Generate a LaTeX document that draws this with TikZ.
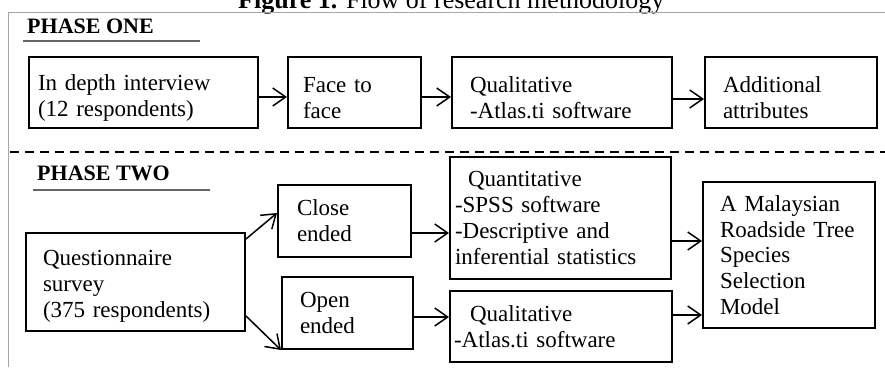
\documentclass[tikz,border=0pt]{standalone}
\usepackage{fontspec}
\setmainfont{Liberation Serif}
\usetikzlibrary{arrows.meta}

\tikzset{
  box/.style={draw, line width=2pt, align=left, inner ysep=0pt,
    font=\fontsize{23pt}{25.8pt}\selectfont},
  textdrop/.style={execute at begin node={\rule{0pt}{#1}}},
  flow/.style={-{Straight Barb[length=13pt,width=18pt]}, line width=1.5pt},
  heading/.style={anchor=base west, inner sep=0pt,
    font=\bfseries\fontsize{22pt}{24pt}\selectfont},
  headrule/.style={line width=1.2pt, gray!80!black},
  pageframe/.style={line width=1.5pt, gray!70}
}

\begin{document}
\begin{tikzpicture}[x=1pt, y=-1pt]
  \useasboundingbox (0,0) rectangle (885,367);

  % caption, frame and separator
  \node[anchor=base west, inner sep=0pt, font=\fontsize{26pt}{30pt}\selectfont] (caption) at (238,8) {\textbf{Figure 1.} Flow of research methodology};
  \draw[pageframe] (8.5,367) -- (8.5,12.5) -- (885,12.5);
  \draw[line width=2.5pt, dash pattern=on 9pt off 6pt] (10,152) -- (885,152);

  % phase one
  \node[heading] (phaseone) at (27,33) {PHASE ONE};
  \draw[headrule] (23,41) -- (200,41);

  \node[box, textdrop=27pt, text width=211pt, inner xsep=9pt, minimum height=71pt] (interview) at (143.5,92.5) {In depth interview\\(12 respondents)};
  \node[box, textdrop=27pt, text width=103pt, inner xsep=15pt, minimum height=71pt] (facetoface) at (354.5,92.5) {Face to\\face};
  \node[box, textdrop=27pt, text width=184pt, inner xsep=18pt, minimum height=71pt] (qualone) at (562,92.5) {Qualitative\\-Atlas.ti software};
  \node[box, textdrop=27pt, text width=136pt, inner xsep=18pt, minimum height=71pt] (attributes) at (791,92.5) {Additional\\attributes};

  % phase two
  \node[heading] (phasetwo) at (37,180.7) {PHASE TWO};
  \draw[headrule] (33,190) -- (210,190);

  \node[box, textdrop=23.7pt, text width=185pt, inner xsep=17pt, minimum height=98pt] (survey) at (135.5,282) {Questionnaire\\survey\\(375 respondents)};
  \node[box, text width=95pt, inner xsep=19pt, minimum height=72pt] (closed) at (344.5,221) {Close\\ended};
  \node[box, text width=95pt, inner xsep=18pt, minimum height=72pt] (opened) at (347.5,313) {Open\\ended};
  \node[box, text width=211pt, inner xsep=5pt, minimum height=122pt] (quant) at (560.5,218) {\hspace*{13pt}Quantitative\\-SPSS software\\-Descriptive and\\inferential statistics};
  \node[box, text width=214pt, inner xsep=4pt, minimum height=71pt] (qualtwo) at (561,326.5) {\hspace*{16pt}Qualitative\\-Atlas.ti software};
  \node[box, text width=138pt, inner xsep=17pt, minimum height=146pt] (model) at (789,255) {A Malaysian\\Roadside Tree\\Species\\Selection\\Model};

  % horizontal arrows
  \draw[flow] ([yshift=-4.5pt]interview.east) coordinate (a1) -- (a1 -| facetoface.west);
  \draw[flow] ([yshift=-4.5pt]facetoface.east) coordinate (a2) -- (a2 -| qualone.west);
  \draw[flow] ([yshift=-6.5pt]qualone.east) coordinate (a3) -- (a3 -| attributes.west);
  \draw[flow] ([yshift=-12pt]closed.east) coordinate (b1) -- (b1 -| quant.west);
  \draw[flow] ([yshift=-4pt]opened.east) coordinate (b2) -- (b2 -| qualtwo.west);
  \draw[flow] ([yshift=-23pt]quant.east) coordinate (b3) -- (b3 -| model.west);
  \draw[flow] ([yshift=11.5pt]qualtwo.east) coordinate (b4) -- (b4 -| model.west);

  % branching arrows
  \draw[flow] ([yshift=-7pt]survey.north east) -- ([yshift=8pt]closed.west);
  \draw[flow] ([yshift=16pt]survey.south east) -- (opened.south west);
\end{tikzpicture}
\end{document}
